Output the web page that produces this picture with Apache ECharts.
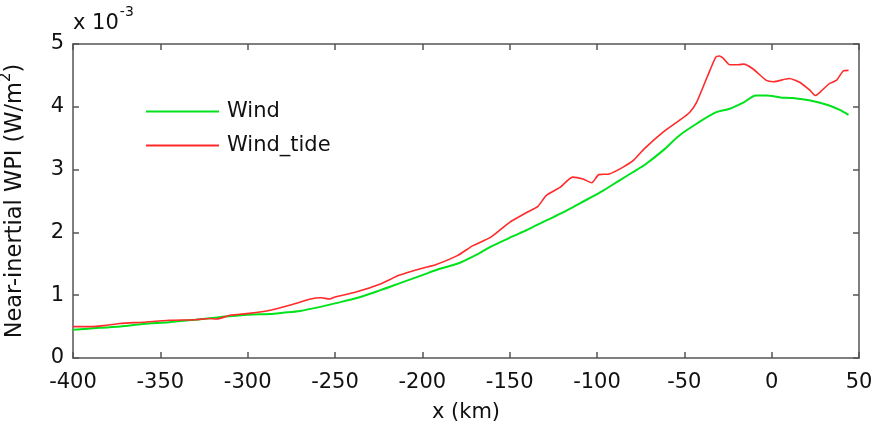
<!DOCTYPE html>
<html>
<head>
<meta charset="utf-8">
<script src="https://cdn.jsdelivr.net/npm/echarts@6/dist/echarts.min.js"></script>
<style>
  html, body { margin: 0; padding: 0; background: #fff; }
  #chart { width: 874px; height: 425px; }
</style>
</head>
<body>
<div id="chart"></div>
<script>
// Along-track distance (km) and near-inertial wind power input (x 10^-3 W/m^2)
const windX = [-400, -385, -373, -360, -345, -330, -316, -300, -287, -280, -270, -259, -250, -237, -224, -212, -200, -190, -180, -170, -161, -148, -140, -129, -120, -114, -110, -98, -87, -80, -72, -62, -53, -43, -32, -24, -16, -9, -3, 5, 12, 24, 33, 39, 44];
const windY = [0.45, 0.48, 0.50, 0.54, 0.57, 0.61, 0.65, 0.69, 0.70, 0.72, 0.75, 0.81, 0.87, 0.96, 1.08, 1.20, 1.32, 1.42, 1.50, 1.63, 1.77, 1.94, 2.04, 2.19, 2.31, 2.40, 2.46, 2.64, 2.83, 2.95, 3.09, 3.31, 3.54, 3.73, 3.91, 3.97, 4.07, 4.18, 4.18, 4.15, 4.14, 4.09, 4.02, 3.95, 3.87];

const tideX = [-400, -390, -381, -373, -360, -345, -330, -322, -318, -310, -299, -287, -276, -264, -258, -253, -250, -238, -224, -213, -200, -192, -180, -171, -161, -150, -140, -134, -129, -121, -114, -108, -103, -99, -93, -85, -79, -73, -62, -53, -47, -43, -37, -32, -30, -28, -24, -19, -16, -11, -3, 1, 10, 16, 22, 25, 28, 33, 37, 41, 44];
const tideY = [0.50, 0.50, 0.52, 0.55, 0.57, 0.60, 0.61, 0.63, 0.62, 0.68, 0.71, 0.76, 0.84, 0.94, 0.96, 0.94, 0.97, 1.05, 1.18, 1.32, 1.43, 1.49, 1.63, 1.79, 1.92, 2.16, 2.32, 2.41, 2.59, 2.72, 2.88, 2.85, 2.79, 2.92, 2.93, 3.04, 3.15, 3.33, 3.60, 3.78, 3.91, 4.07, 4.47, 4.79, 4.81, 4.78, 4.67, 4.67, 4.68, 4.61, 4.42, 4.40, 4.45, 4.39, 4.26, 4.18, 4.24, 4.37, 4.42, 4.57, 4.58];

const seriesNames = ['Wind', 'Wind_tide'];
const xMin = -400, xMax = 50, xStep = 50;
const yMin = 0, yMax = 5, yStep = 1;

const pairs = (xs, ys) => xs.map((x, i) => [x, ys[i]]);

const FONT = 'DejaVu Sans, sans-serif';
const FS = 21;
const frame = { show: true, onZero: false, lineStyle: { color: '#555', width: 1.5 } };
const inTicks = { show: true, inside: true, length: 6, lineStyle: { color: '#555', width: 1.5 } };

const chart = echarts.init(document.getElementById('chart'));
chart.setOption({
  animation: false,
  grid: { left: 73, right: 15, top: 44, bottom: 67, outerBoundsMode: 'none', containLabel: false },
  legend: {
    orient: 'vertical',
    left: 146,
    top: 101,
    padding: 0,
    itemWidth: 73,
    itemHeight: 2,
    itemGap: 13,
    icon: 'rect',
    data: seriesNames,
    textStyle: { fontFamily: FONT, fontSize: FS, color: '#111', padding: [0, 0, 0, 3] }
  },
  xAxis: [
    {
      type: 'value', min: xMin, max: xMax, interval: xStep,
      axisLine: frame, axisTick: inTicks, splitLine: { show: false },
      axisLabel: { fontFamily: FONT, fontSize: FS, color: '#111', margin: 14 },
      name: 'x (km)', nameLocation: 'middle', nameGap: 44,
      nameTextStyle: { fontFamily: FONT, fontSize: FS, color: '#111' }
    },
    {
      type: 'value', position: 'top', min: xMin, max: xMax, interval: xStep,
      axisLine: frame, axisTick: inTicks, axisLabel: { show: false }, splitLine: { show: false }
    }
  ],
  yAxis: [
    {
      type: 'value', min: yMin, max: yMax, interval: yStep,
      axisLine: frame, axisTick: inTicks, splitLine: { show: false },
      axisLabel: { fontFamily: FONT, fontSize: FS, color: '#111', margin: 9 }
    },
    {
      type: 'value', position: 'right', min: yMin, max: yMax, interval: yStep,
      axisLine: frame, axisTick: inTicks, axisLabel: { show: false }, splitLine: { show: false }
    }
  ],
  graphic: [
    {
      type: 'text', left: 73, top: 5,
      style: {
        text: '{b|x 10}{s|-3}',
        rich: {
          b: { fontFamily: FONT, fontSize: FS, fill: '#111', padding: [12, 0, 0, 0] },
          s: { fontFamily: FONT, fontSize: 14, fill: '#111', padding: [0, 0, 12, 1] }
        }
      }
    },
    {
      type: 'text', x: 11, y: 201, rotation: Math.PI / 2,
      style: {
        text: '{b|Near-inertial WPI (W/m}{s|2}{b|)}',
        align: 'center', verticalAlign: 'middle',
        rich: {
          b: { fontFamily: FONT, fontSize: 22.5, fill: '#111', padding: [9, 0, 0, 0] },
          s: { fontFamily: FONT, fontSize: 15, fill: '#111', padding: [0, 0, 9, 0] }
        }
      }
    }
  ],
  series: [
    {
      name: seriesNames[0], type: 'line', data: pairs(windX, windY),
      showSymbol: false, symbol: 'none', smooth: 0.3,
      lineStyle: { color: '#00e21c', width: 2 }, itemStyle: { color: '#00e21c' }
    },
    {
      name: seriesNames[1], type: 'line', data: pairs(tideX, tideY),
      showSymbol: false, symbol: 'none', smooth: 0.2,
      lineStyle: { color: '#ff2a2a', width: 1.6 }, itemStyle: { color: '#ff2a2a' }
    }
  ]
});
</script>
</body>
</html>
